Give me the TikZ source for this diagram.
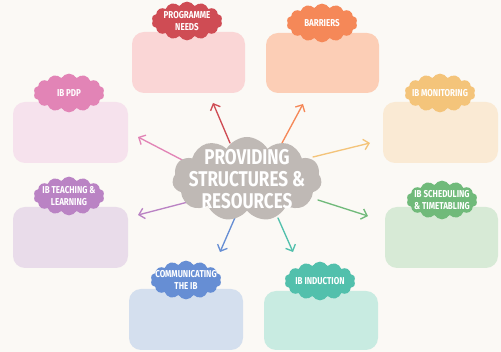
\documentclass[tikz,border=0pt]{standalone}
\usepackage{fontspec}
\usetikzlibrary{shapes.symbols,arrows.meta,backgrounds,calc}
\newfontfamily\tagfont[FakeStretch=0.8]{Fira Sans}

\definecolor{paper}{RGB}{251,249,245}
\definecolor{hubgrey}{RGB}{191,185,181}
\definecolor{needsred}{RGB}{207,76,84}      \definecolor{needsbox}{RGB}{250,214,214}
\definecolor{barrorange}{RGB}{245,136,88}   \definecolor{barrbox}{RGB}{252,206,182}
\definecolor{pdppink}{RGB}{226,132,182}     \definecolor{pdpbox}{RGB}{246,226,237}
\definecolor{monyellow}{RGB}{244,196,122}   \definecolor{monbox}{RGB}{250,234,212}
\definecolor{teachpurple}{RGB}{186,131,196} \definecolor{teachbox}{RGB}{233,220,234}
\definecolor{schedgreen}{RGB}{112,186,122}  \definecolor{schedbox}{RGB}{215,234,214}
\definecolor{commblue}{RGB}{102,142,212}    \definecolor{commbox}{RGB}{212,223,238}
\definecolor{indteal}{RGB}{82,192,172}      \definecolor{indbox}{RGB}{200,235,225}

\tikzset{
  every picture/.style={line width=0.75pt},
  tag/.style={cloud, cloud puffs=14, cloud puff arc=120, aspect=2,
    minimum width=53pt, minimum height=29pt, inner sep=0pt},
  tagtext/.style={text=white, align=center, inner sep=0pt,
    font=\tagfont\bfseries\fontsize{7.5}{9.5}\selectfont},
  card/.style={rounded corners=9pt},
  spoke/.style={line width=1pt, line cap=round, -{Straight Barb[length=4pt,width=8pt]}},
}

\begin{document}
\begin{tikzpicture}[x=0.75pt,y=0.75pt,yscale=-1,xscale=1]
\useasboundingbox (0,0) rectangle (501,352);

%Shape: Cards
\fill [needsbox,card] (132,32) rectangle (245,93) ;
\fill [barrbox,card] (266,33) rectangle (379,93) ;
\fill [pdpbox,card] (13,102) rectangle (128,163) ;
\fill [monbox,card] (383,102) rectangle (498,163) ;
\fill [teachbox,card] (13,207) rectangle (128,268) ;
\fill [schedbox,card] (385,207) rectangle (498,268) ;
\fill [commbox,card] (129,289) rectangle (243,350) ;
\fill [indbox,card] (264,291) rectangle (378,350) ;

%Shape: Tags
\node [tag,fill=needsred] (needs) at (187,21) {};
\node [tag,fill=barrorange] (barriers) at (322,23) {};
\node [tag,fill=pdppink] (pdp) at (69,93) {};
\node [tag,fill=monyellow] (monitoring) at (440,93) {};
\node [tag,fill=teachpurple] (teaching) at (69,196) {};
\node [tag,fill=schedgreen] (scheduling) at (442,200) {};
\node [tag,fill=commblue] (communicating) at (186,280) {};
\node [tag,fill=indteal] (induction) at (320,281) {};

% Text Node
\node [tagtext] at (needs) {PROGRAMME\\NEEDS};
\node [tagtext] at (barriers) {BARRIERS};
\node [tagtext] at (pdp) {IB PDP};
\node [tagtext] at (monitoring) {IB MONITORING};
\node [tagtext] at (teaching) {IB TEACHING \&\\LEARNING};
\node [tagtext] at (scheduling) {IB SCHEDULING\\\& TIMETABLING};
\node [tagtext] at (communicating) {COMMUNICATING\\THE IB};
\node [tagtext] at (induction) {IB INDUCTION};

%Shape: Hub
\node [cloud, cloud puffs=11, cloud puff arc=120, aspect=1.8, fill=hubgrey,
  minimum width=112pt, minimum height=63pt, inner sep=0pt] (hub) at (247,179) {};
% Text Node
\node [text=white, align=center, inner sep=0pt,
  font=\tagfont\bfseries\fontsize{16}{16.5}\selectfont] at (hub) {PROVIDING\\STRUCTURES \&\\RESOURCES};

%Arrow tips
\coordinate (pdp-tip) at (138,137);
\coordinate (needs-tip) at (213,103);
\coordinate (barriers-tip) at (303,104);
\coordinate (monitoring-tip) at (370,143);
\coordinate (teaching-tip) at (138,215);
\coordinate (communicating-tip) at (220,252);
\coordinate (induction-tip) at (293,252);
\coordinate (scheduling-tip) at (368,216);

\begin{pgfonlayer}{background}
\fill [paper] (0,0) rectangle (501,352) ;
%Straight Lines
\draw [spoke,pdppink] ($(hub)+(-59,-16)$) -- (pdp-tip) ;
\draw [spoke,needsred] ($(hub)+(-17,-36)$) -- (needs-tip) ;
\draw [spoke,barrorange] ($(hub)+(35,-36)$) -- (barriers-tip) ;
\draw [spoke,monyellow] ($(hub)+(66,-22)$) -- (monitoring-tip) ;
\draw [spoke,teachpurple] ($(hub)+(-59,23)$) -- (teaching-tip) ;
\draw [spoke,commblue] ($(hub)+(-10,34)$) -- (communicating-tip) ;
\draw [spoke,indteal] ($(hub)+(31,39)$) -- (induction-tip) ;
\draw [spoke,schedgreen] ($(hub)+(71,21)$) -- (scheduling-tip) ;
\end{pgfonlayer}

\end{tikzpicture}
\end{document}
